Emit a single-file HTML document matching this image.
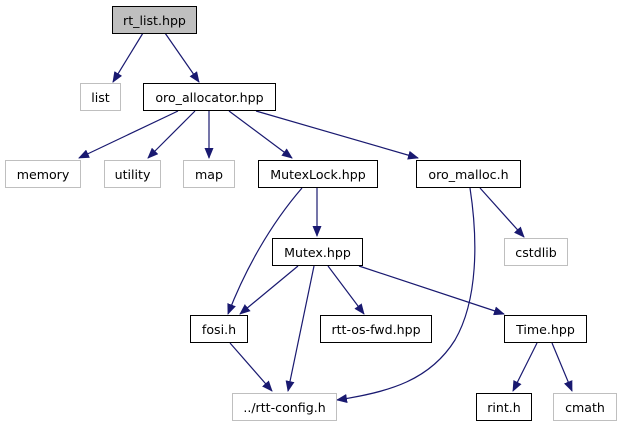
<!DOCTYPE html>
<html><head><meta charset="utf-8"><style>
html,body{margin:0;padding:0;background:#fff;}
svg{display:block;}
text{font-family:"DejaVu Sans","Liberation Sans",sans-serif;font-size:12.6px;fill:#000;}
</style></head><body>
<svg width="621" height="427" viewBox="0 0 621 427" xmlns="http://www.w3.org/2000/svg">
<defs>
<marker id="a" markerWidth="11" markerHeight="9" refX="10" refY="4.5" orient="auto" markerUnits="userSpaceOnUse">
<path d="M0,0 L11,4.5 L0,9 z" fill="#191970"/>
</marker>
</defs>
<g fill="none" stroke="#191970" stroke-width="1.2" marker-end="url(#a)">
<line x1="143" y1="33" x2="113" y2="82"/>
<line x1="165" y1="33" x2="199" y2="82"/>
<line x1="178" y1="111" x2="79" y2="158"/>
<line x1="195" y1="111" x2="148" y2="158"/>
<line x1="209" y1="111" x2="209" y2="158"/>
<line x1="229" y1="111" x2="292" y2="158"/>
<line x1="256" y1="111" x2="418" y2="158"/>
<path d="M302,188 C270,225 245,270 228,314"/>
<line x1="317" y1="188" x2="317" y2="236"/>
<path d="M470,188 C478,240 478,300 455,340 C430,380 390,392 337,400"/>
<line x1="480" y1="188" x2="524" y2="237"/>
<line x1="298" y1="266" x2="240" y2="314"/>
<line x1="314" y1="266" x2="288" y2="391"/>
<line x1="328" y1="266" x2="364" y2="314"/>
<line x1="359" y1="266" x2="504" y2="314"/>
<line x1="230" y1="343" x2="272" y2="391"/>
<line x1="537" y1="343" x2="513" y2="391"/>
<line x1="552" y1="343" x2="572" y2="391"/>
</g>
<g stroke-width="1">
<rect x="112.5" y="6.5" width="84" height="27" fill="#bfbfbf" stroke="#000"/>
<rect x="80.5" y="83.5" width="40" height="27" fill="#fff" stroke="#bfbfbf"/>
<rect x="143.5" y="83.5" width="132" height="27" fill="#fff" stroke="#000"/>
<rect x="5.5" y="160.5" width="75" height="27" fill="#fff" stroke="#bfbfbf"/>
<rect x="104.5" y="160.5" width="56" height="27" fill="#fff" stroke="#bfbfbf"/>
<rect x="183.5" y="160.5" width="51" height="27" fill="#fff" stroke="#bfbfbf"/>
<rect x="258.5" y="160.5" width="119" height="27" fill="#fff" stroke="#000"/>
<rect x="416.5" y="160.5" width="104" height="27" fill="#fff" stroke="#000"/>
<rect x="504.5" y="238.5" width="63" height="27" fill="#fff" stroke="#bfbfbf"/>
<rect x="272.5" y="238.5" width="90" height="27" fill="#fff" stroke="#000"/>
<rect x="190.5" y="315.5" width="57" height="27" fill="#fff" stroke="#000"/>
<rect x="320.5" y="315.5" width="111" height="27" fill="#fff" stroke="#000"/>
<rect x="504.5" y="315.5" width="82" height="27" fill="#fff" stroke="#000"/>
<rect x="232.5" y="393.5" width="104" height="27" fill="#fff" stroke="#bfbfbf"/>
<rect x="476.5" y="393.5" width="55" height="27" fill="#fff" stroke="#000"/>
<rect x="553.5" y="393.5" width="63" height="27" fill="#fff" stroke="#bfbfbf"/>
</g>
<g text-anchor="middle">
<text x="154.5" y="25">rt_list.hpp</text>
<text x="100.5" y="102">list</text>
<text x="209.5" y="102">oro_allocator.hpp</text>
<text x="43" y="179">memory</text>
<text x="132.5" y="179">utility</text>
<text x="209" y="179">map</text>
<text x="318" y="179">MutexLock.hpp</text>
<text x="468.5" y="179">oro_malloc.h</text>
<text x="536" y="257">cstdlib</text>
<text x="317.5" y="257">Mutex.hpp</text>
<text x="219" y="334">fosi.h</text>
<text x="376" y="334">rtt-os-fwd.hpp</text>
<text x="545.5" y="334">Time.hpp</text>
<text x="284.5" y="412">../rtt-config.h</text>
<text x="504" y="412">rint.h</text>
<text x="585" y="412">cmath</text>
</g>
</svg>
</body></html>
